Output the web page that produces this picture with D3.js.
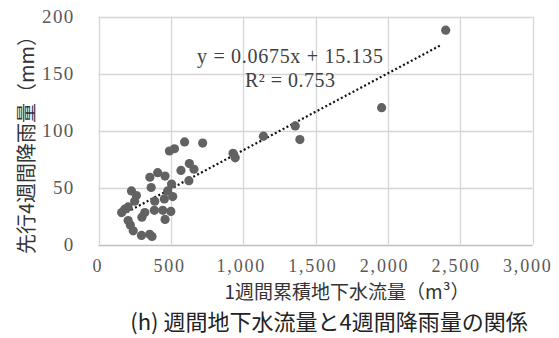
<!DOCTYPE html>
<html>
<head>
<meta charset="utf-8">
<script src="https://cdn.jsdelivr.net/npm/d3@7"></script>
<style>
  html, body { margin: 0; padding: 0; background: #fff; }
  svg { display: block; }
</style>
</head>
<body>
<svg id="chart" width="559" height="338"></svg>
<script>
// Weekly cumulative groundwater flow (m3) vs. preceding 4-week rainfall (mm)
const flow = [2400, 1957, 1360, 1392, 1140, 930, 945, 595, 720, 490,
              525, 570, 628, 660, 625, 505, 355, 409, 460, 364,
              455, 513, 478, 386, 444, 500, 460, 228, 262, 250,
              181, 205, 160, 205, 220, 240, 300, 320, 297, 354,
              370, 389];
const rain = [188, 120, 104, 92, 95, 80, 76, 90, 89, 82,
              84, 65, 71, 66, 56, 53, 59, 63, 60, 50,
              40, 42, 47, 30, 30, 29, 22, 47, 43, 38,
              31, 33, 28, 21, 17, 12, 24, 28, 8, 9,
              7, 38];

// Linear fit shown on the chart
const slope = 0.0675;
const intercept = 15.135;
const rSquared = 0.753;

const xTicks = [0, 500, 1000, 1500, 2000, 2500, 3000];
const yTicks = [0, 50, 100, 150, 200];

const xTitle = "1週間累積地下水流量（m³）";
const yTitle = "先行4週間降雨量（mm）";
const caption = "(h) 週間地下水流量と4週間降雨量の関係";

const svg = d3.select("#chart");
const plotLeft = 98.5, plotRight = 532.5, plotTop = 16.5, plotBottom = 244.5;

const x = d3.scaleLinear().domain([0, 3000]).range([plotLeft, plotRight]);
const y = d3.scaleLinear().domain([0, 200]).range([plotBottom, plotTop]);

const serif = "'Liberation Serif', 'Times New Roman', serif";
const jp = "'Noto Sans CJK JP', sans-serif";

// Gridlines
svg.append("g")
  .selectAll("line")
  .data(xTicks)
  .join("line")
  .attr("x1", d => Math.round(x(d)) + 0.5).attr("x2", d => Math.round(x(d)) + 0.5)
  .attr("y1", plotTop).attr("y2", plotBottom)
  .attr("stroke", "#d6d6d6").attr("stroke-width", 1.3);

svg.append("g")
  .selectAll("line")
  .data(yTicks)
  .join("line")
  .attr("x1", plotLeft).attr("x2", plotRight)
  .attr("y1", d => Math.round(y(d)) + 0.5).attr("y2", d => Math.round(y(d)) + 0.5)
  .attr("stroke", d => d === 0 ? "#bfbfbf" : "#d6d6d6").attr("stroke-width", 1.3);

// Axes (labels only; the lines are the gridlines above)
const xAxis = svg.append("g")
  .attr("transform", `translate(0,${plotBottom})`)
  .call(d3.axisBottom(x).tickValues(xTicks).tickSize(0).tickPadding(0)
    .tickFormat(d3.format(",")));
xAxis.select(".domain").remove();
xAxis.selectAll("text")
  .attr("y", 27.5).attr("dy", 0)
  .attr("dx", (d, i) => -1 - i * 0.7)
  .attr("fill", "#595959")
  .style("font-family", serif).style("font-size", "18px")
  .style("letter-spacing", "1.8px");

const yAxis = svg.append("g")
  .attr("transform", `translate(${plotLeft},0)`)
  .call(d3.axisLeft(y).tickValues(yTicks).tickSize(0).tickPadding(24));
yAxis.select(".domain").remove();
yAxis.selectAll("text")
  .attr("fill", "#595959")
  .style("font-family", serif).style("font-size", "19px")
  .style("letter-spacing", "1.3px");

// Trendline
const fx = d3.extent(flow);
svg.append("line")
  .attr("x1", x(fx[0] - 15)).attr("y1", y(slope * (fx[0] - 15) + intercept))
  .attr("x2", x(fx[1] - 30)).attr("y2", y(slope * (fx[1] - 30) + intercept))
  .attr("stroke", "#111").attr("stroke-width", 2.2)
  .attr("stroke-dasharray", "2 2.4");

// Points
svg.append("g")
  .selectAll("circle")
  .data(flow.map((f, i) => [f, rain[i]]))
  .join("circle")
  .attr("cx", d => x(d[0])).attr("cy", d => y(d[1]))
  .attr("r", 4.6)
  .attr("fill", "#626262");

// Regression label
svg.append("text")
  .attr("x", 197).attr("y", 63)
  .attr("textLength", 186).attr("lengthAdjust", "spacing")
  .attr("fill", "#404040")
  .style("font-family", serif).style("font-size", "20px")
  .text(`y = ${slope}x + ${intercept}`);
svg.append("text")
  .attr("x", 245).attr("y", 87)
  .attr("textLength", 90).attr("lengthAdjust", "spacing")
  .attr("fill", "#404040")
  .style("font-family", serif).style("font-size", "20px")
  .text(`R² = ${rSquared}`);

// Axis titles
svg.append("text")
  .attr("x", 347).attr("y", 298.5)
  .attr("text-anchor", "middle")
  .attr("fill", "#333")
  .style("font-family", jp).style("font-size", "19px")
  .text(xTitle);

svg.append("text")
  .attr("transform", "translate(34,140) rotate(-90)")
  .attr("text-anchor", "middle")
  .attr("fill", "#333")
  .style("font-family", jp).style("font-size", "20px")
  .text(yTitle);

// Caption
svg.append("text")
  .attr("x", 329).attr("y", 330)
  .attr("text-anchor", "middle")
  .attr("fill", "#222")
  .style("font-family", jp).style("font-size", "22px")
  .text(caption);
</script>
</body>
</html>
